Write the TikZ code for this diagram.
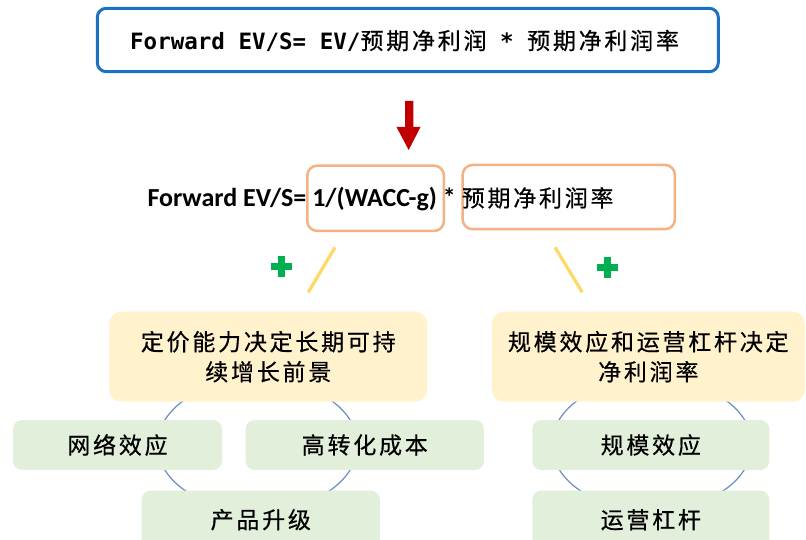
\documentclass[tikz,border=0pt]{standalone}
\usepackage{fontspec}
\setmainfont{Carlito}
\newfontfamily\cjkf{Noto Sans CJK SC}[LetterSpace=12,FakeBold=0.5]
\newfontfamily\monof{DejaVu Sans Mono}
\definecolor{topblue}{RGB}{30,112,196}
\definecolor{orangeb}{RGB}{244,177,131}
\definecolor{yfill}{RGB}{255,242,204}
\definecolor{gfill}{RGB}{226,239,218}
\definecolor{plusgreen}{RGB}{0,176,80}
\definecolor{slashyellow}{RGB}{255,217,102}
\definecolor{ringblue}{RGB}{106,142,191}
\definecolor{arrowred}{RGB}{192,0,0}
\begin{document}
\begin{tikzpicture}[x=1pt,y=-1pt,
  topbox/.style={draw=topblue,line width=3pt,rounded corners=9pt,fill=white,inner sep=0pt},
  obox/.style={draw=orangeb,line width=2.5pt,rounded corners=10pt,inner sep=0pt},
  ybox/.style={fill=yfill,rounded corners=12pt,inner sep=0pt,align=center,
    font=\cjkf\fontsize{23}{30}\selectfont},
  gbox/.style={fill=gfill,rounded corners=9pt,inner sep=0pt,
    font=\cjkf\fontsize{23}{26}\selectfont},
  plussign/.style={draw=plusgreen,line width=7pt},
  slashline/.style={draw=slashyellow,line width=3.2pt},
  ring/.style={draw=ringblue,line width=1.2pt},
  txt/.style={inner sep=0pt,anchor=base west}]
\useasboundingbox (0,0) rectangle (806,540);
\clip (0,0) rectangle (806,540);
% top formula box
\node[topbox,minimum width=621pt,minimum height=63.4pt] (top) at (407.8,40) {};
\node[txt,font=\monof\bfseries\fontsize{22.5}{26}\selectfont] (toptext) at (130,49.3)
  {Forward EV/S= EV/{\cjkf\mdseries\fontsize{23}{26}\selectfont 预期净利润} * {\cjkf\mdseries\fontsize{23}{26}\selectfont 预期净利润率}};
% red block arrow
\coordinate (atop) at (409.2,101);
\coordinate (atip) at (408.7,150);
\fill[arrowred] (405,101) -- (413.3,101) -- (413.3,127) -- (420.5,127) -- (atip)
  -- (396.5,127) -- (405,127) -- cycle;
% second formula
\node[obox,minimum width=136.7pt,minimum height=65.3pt] (ob1) at (375.6,198.3) {};
\node[obox,minimum width=212.3pt,minimum height=64.3pt] (ob2) at (568.8,197.1) {};
\node[txt,font=\bfseries\fontsize{26}{30}\selectfont] (formula) at (147.3,206.7)
  {Forward EV/S= 1/(WACC-g) * {\cjkf\mdseries\fontsize{23}{26}\selectfont 预期净利润率}};
% plus signs and slashes
\draw[plussign] (271,266.7) -- (292.4,266.7) (281.7,256) -- (281.7,277.4);
\draw[plussign] (596.6,267.3) -- (618,267.3) (607.3,256.6) -- (607.3,278);
\draw[slashline] (335,247.3) -- (308.3,292.3);
\draw[slashline] (555,247.3) -- (582.3,292.3);
% rings behind boxes
\draw[ring] (257.5,445) ellipse [x radius=100pt, y radius=66pt];
\draw[ring] (651.8,444.6) ellipse [x radius=100pt, y radius=66pt];
% yellow boxes
\node[ybox,minimum width=318pt,minimum height=90pt] (y1) at (268.3,356.7)
  {定价能力决定长期可持\\续增长前景};
\node[ybox,minimum width=313pt,minimum height=90pt] (y2) at (648.3,356.7)
  {规模效应和运营杠杆决定\\净利润率};
% green boxes
\node[gbox,minimum width=209pt,minimum height=50pt] (g1) at (117.5,445) {网络效应};
\node[gbox,minimum width=238.3pt,minimum height=50pt] (g2) at (364.8,445) {高转化成本};
\node[gbox,minimum width=238.3pt,minimum height=58pt] (g3) at (260.8,519.7) {产品升级};
\node[gbox,minimum width=237pt,minimum height=50pt] (g4) at (650.8,445) {规模效应};
\node[gbox,minimum width=237pt,minimum height=58pt] (g5) at (650.8,519.7) {运营杠杆};
\end{tikzpicture}
\end{document}
